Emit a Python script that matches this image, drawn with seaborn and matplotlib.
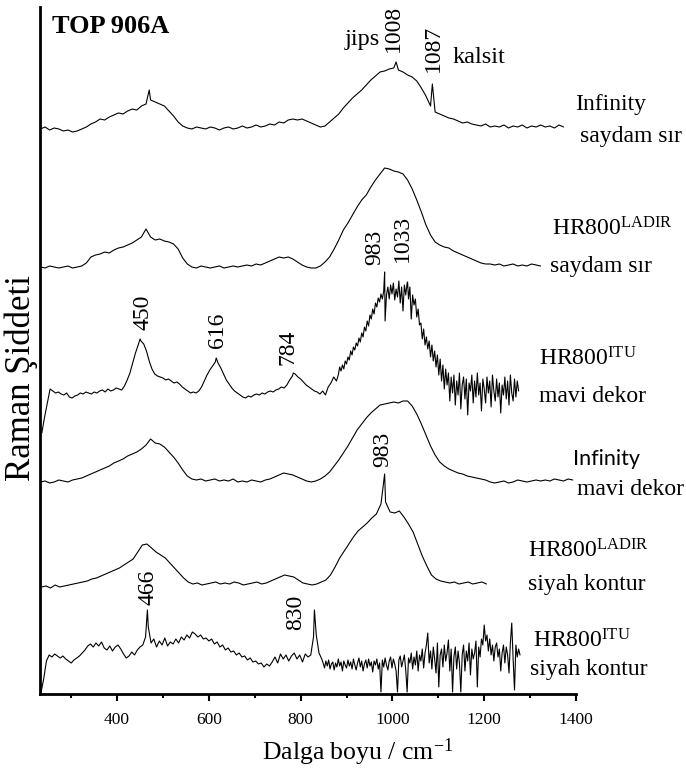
import numpy as np
import pandas as pd
import matplotlib
matplotlib.use("Agg")
import matplotlib.pyplot as plt
from matplotlib.ticker import MultipleLocator
import seaborn as sns

# ---------------------------------------------------------------------------
# Raman spectra of sample TOP 906A.  Each spectrum is stored as one or more
# segments: first wavenumber, sampling step (cm-1) and intensity above the
# spectrum's own baseline (arbitrary units).  Sharp bands are listed
# separately (position in cm-1, height).
# ---------------------------------------------------------------------------
inf_saydam_start, inf_saydam_step = 233, 10
inf_saydam = [
    -1, 1, -2, 0, -1, -3, -2, -4, -3, -1,
    1, 4, 6, 9, 8, 11, 13, 15, 14, 17,
    19, 18, 22, 24, 28, 26, 24, 22, 17, 12,
    6, 2, 0, -1, 1, 0, -1, 1, 0, -2,
    0, 1, -1, 0, 2, 0, 1, 3, 1, 2,
    4, 3, 6, 5, 8, 9, 8, 9, 7, 5,
    3, 1, 2, 6, 10, 14, 20, 25, 30, 34,
    38, 43, 48, 52, 56, 57, 59, 60, 58, 56,
    53, 51, 47, 40, 32, 22, 16, 14, 12, 10,
    9, 7, 5, 6, 4, 3, 2, 4, 1, 2,
    1, 3, 0, 2, 1, 3, 0, 2, 1, 3,
    1, 2, 0, 3, 1,
]
inf_saydam_bands = [470, 1008, 1087]
inf_saydam_band_heights = [38, 66, 44]
inf_saydam_labelled = [1008, 1087]

ladir_saydam_start, ladir_saydam_step = 233, 10
ladir_saydam = [
    0, -1, 1, 0, -1, 0, 1, -1, 0, 1,
    4, 10, 12, 13, 15, 14, 17, 19, 20, 22,
    24, 27, 30, 38, 30, 27, 28, 26, 25, 23,
    18, 9, 3, 0, -1, 1, 0, -1, 0, 1,
    -1, 0, 1, 0, 1, 2, 1, 3, 2, 4,
    6, 8, 10, 9, 10, 8, 5, 2, 0, -1,
    -1, 1, 5, 10, 18, 27, 37, 44, 52, 60,
    67, 72, 80, 87, 93, 99, 98, 96, 95, 93,
    87, 78, 67, 55, 42, 32, 25, 22, 20, 19,
    16, 14, 12, 10, 8, 6, 4, 3, 3, 2,
    3, 1, 2, 3, 1, 2, 1, 3, 2, 1,
]
ladir_saydam_bands = []
ladir_saydam_band_heights = []
ladir_saydam_labelled = []

# HR800 (ITU), blue decoration: coarse low-wavenumber part + dense noisy part
itu_mavi_low_start, itu_mavi_low_step = 236, 6
itu_mavi_low = [
    -38, -22, -8, 6, 4, 2, 3, 1, 0, 2,
    -2, -3, -1, 0, 2, 1, 3, 2, 1, 3,
    2, 4, 5, 3, 6, 4, 5, 7, 6, 5,
    9, 15, 22, 32, 42, 50, 54, 51, 44, 34,
    26, 21, 19, 18, 17, 15, 16, 14, 12, 13,
    11, 8, 6, 4, 2, 3, 2, 4, 8, 14,
    20, 25, 29, 33, 32, 27, 21, 15, 11, 7,
    4, 2, 0, -2, -3, -1, -2, 0, 1, 0,
    2, 1, 3, 4, 3, 5, 6, 8, 7, 10,
    15, 19, 21, 18, 16, 13, 10, 8, 6, 4,
    3, 1, 4, 0, 8, 12, 18, 14,
]
itu_mavi_high_start, itu_mavi_high_step = 882, 3
itu_mavi_high = [
    20, 28, 24, 30, 26, 34, 31, 38, 35, 44,
    40, 48, 45, 52, 49, 57, 53, 62, 58, 68,
    64, 74, 69, 80, 76, 86, 81, 92, 88, 97,
    93, 101, 96, 104, 74, 100, 108, 96, 110, 101,
    112, 95, 106, 98, 114, 92, 108, 84, 110, 100,
    112, 96, 108, 76, 100, 90, 96, 78, 86, 70,
    72, 56, 66, 50, 58, 46, 54, 38, 50, 34,
    44, 28, 40, 20, 36, 14, 30, 6, 26, 10,
    22, -6, 18, 2, 20, -10, 14, 0, 22, -14,
    10, 18, -4, 16, -20, 12, 4, 20, -8, 14,
    -2, 22, 0, 12, -16, 16, 6, -8, 18, 2,
    14, -12, 20, 4, -6, 16, -2, 12, -18, 10,
    0, 18, -4, 14, -10, 20, 2, -6, 16, -2,
    14, 4,
]
itu_mavi_bands = [450, 616, 784, 983, 1033]
itu_mavi_band_heights = [56, 37, 22, 123, 113]
itu_mavi_labelled = [450, 616, 784, 983, 1033]

inf_mavi_start, inf_mavi_step = 233, 10
inf_mavi = [
    0, 1, -1, 0, 2, 1, 0, 2, 3, 4,
    6, 8, 10, 12, 14, 16, 19, 21, 23, 26,
    28, 30, 33, 37, 43, 39, 38, 35, 30, 25,
    19, 12, 6, 3, 2, 3, 1, 2, 3, 1,
    2, 1, 3, 0, 1, 0, 2, 1, 0, 2,
    3, 5, 7, 9, 8, 7, 5, 3, 1, 0,
    1, 3, 6, 10, 16, 22, 29, 36, 44, 52,
    58, 64, 69, 73, 77, 78, 79, 80, 79, 81,
    81, 76, 68, 58, 47, 36, 27, 20, 16, 13,
    11, 9, 8, 6, 5, 4, 3, 2, 0, -1,
    0, 1, -1, 0, 2, 1, 0, 1, 2, 1,
    2, 1, 3, 2, 1, 3, 2,
]
inf_mavi_bands = []
inf_mavi_band_heights = []
inf_mavi_labelled = []

ladir_siyah_start, ladir_siyah_step = 235, 10
ladir_siyah = [
    -3, -2, -4, -1, -3, -2, -1, 0, 1, 2,
    3, 5, 6, 8, 10, 12, 14, 16, 19, 22,
    25, 32, 39, 40, 36, 32, 29, 26, 21, 16,
    11, 6, 2, 0, 1, -1, 0, 1, 2, 0,
    1, 0, 2, 1, -1, 0, 1, 2, 0, 1,
    3, 5, 7, 9, 8, 7, 4, 1, 0, -1,
    0, 2, 4, 9, 17, 26, 33, 40, 47, 53,
    57, 61, 66, 70, 80, 82, 72, 71, 73, 67,
    60, 52, 40, 28, 18, 9, 5, 3, 2, 1,
    2, 0, 1, 2, 0, 1, 2, 0,
]
ladir_siyah_bands = [983]
ladir_siyah_band_heights = [110]
ladir_siyah_labelled = [983]

# HR800 (ITU), black contour: coarse part + dense noisy part
itu_siyah_low_start, itu_siyah_low_step = 234, 6
itu_siyah_low = [
    -28, -14, 4, 10, 8, 11, 9, 7, 9, 6,
    4, 2, 5, 7, 9, 12, 15, 19, 21, 18,
    22, 19, 23, 17, 15, 19, 14, 18, 20, 16,
    11, 7, 9, 13, 10, 15, 18, 20, 28, 38,
    22, 26, 18, 24, 20, 27, 19, 23, 21, 26,
    22, 28, 25, 30, 27, 33, 31, 28, 30, 26,
    27, 24, 26, 21, 23, 18, 20, 15, 17, 13,
    14, 10, 12, 8, 9, 5, 7, 3, 4, 1,
    2, -2, 1, -1, 3, 8, 2, 11, 6, 10,
    4, 9, 12, 6, 10, 3, 11, 8, 10, 28,
    30, 12, 6,
]
itu_siyah_high_start, itu_siyah_high_step = 849, 3
itu_siyah_high = [
    2, -3, 4, -1, 5, -4, 1, 3, -5, 2,
    -2, 6, -1, 3, -6, 4, 0, -3, 5, -1,
    3, -4, 6, 0, -5, 2, 7, -2, 4, -6,
    1, 5, -3, 6, -1, 3, -7, 4, 0, 6,
    -4, 2, -27, 5, -2, 7, 0, -5, 4, 8,
    -3, 6, 1, -6, -27, 5, 9, -2, 4, 10,
    -5, -27, 7, 2, 12, -4, 8, 0, 14, -6,
    10, 4, 16, -3, 12, 20, 32, 2, 14, -4,
    18, 6, -8, 22, -22, 10, 16, -2, 20, 4,
    12, 25, -6, 16, -27, 8, 18, -4, 14, 2,
    -27, 10, 20, -6, 14, 4, 22, -10, 16, 6,
    12, 24, -22, 18, 8, 26, 20, 40, 24, 30,
    14, 26, 10, 20, 4, 18, 22, 8, 16, -6,
    12, 20, 2, 18, 10, -8, 22, 42, 6, -25,
    20, 8, 16, 10,
]
itu_siyah_bands = [466, 830]
itu_siyah_band_heights = [55, 55]
itu_siyah_labelled = [466, 830]

instruments = ["Infinity", r"HR800$^{\mathrm{LADIR}}$", r"HR800$^{\mathrm{ITU}}$",
               "Infinity", r"HR800$^{\mathrm{LADIR}}$", r"HR800$^{\mathrm{ITU}}$"]
samples = ["saydam sır", "saydam sır", "mavi dekor",
           "mavi dekor", "siyah kontur", "siyah kontur"]

x_ticks = [400, 600, 800, 1000, 1200, 1400]

# ---------------------------------------------------------------------------
# Layout: vertical stacking offsets and text placement
# ---------------------------------------------------------------------------
offsets = [566, 427, 299, 212, 110, 29]
instr_pos = [(1398, 584), (1348, 459), (1320, 329), (1394, 229), (1296, 137), (1307, 47)]
sample_pos = [(1409, 552), (1344, 422), (1320, 292), (1403, 199), (1296, 104), (1300, 19)]
instr_family = ["Liberation Serif", "Liberation Serif", "Liberation Serif",
                "Lato", "Liberation Serif", "Liberation Serif"]
instr_size = [17, 17, 17, 15.5, 17, 17]
# per labelled band: (horizontal shift of the number, bottom of the number)
band_label_layout = {
    (0, 1008): (-6, 642), (0, 1087): (2, 622),
    (2, 450): (7, 364), (2, 616): (2, 346), (2, 784): (-11, 329),
    (2, 983): (-21, 429), (2, 1033): (-12, 432),
    (4, 983): (-5, 227),
    (5, 466): (2, 89), (5, 830): (-40, 64),
}

spectra = [
    ([(inf_saydam_start, inf_saydam_step, inf_saydam)],
     inf_saydam_bands, inf_saydam_band_heights, inf_saydam_labelled),
    ([(ladir_saydam_start, ladir_saydam_step, ladir_saydam)],
     ladir_saydam_bands, ladir_saydam_band_heights, ladir_saydam_labelled),
    ([(itu_mavi_low_start, itu_mavi_low_step, itu_mavi_low),
      (itu_mavi_high_start, itu_mavi_high_step, itu_mavi_high)],
     itu_mavi_bands, itu_mavi_band_heights, itu_mavi_labelled),
    ([(inf_mavi_start, inf_mavi_step, inf_mavi)],
     inf_mavi_bands, inf_mavi_band_heights, inf_mavi_labelled),
    ([(ladir_siyah_start, ladir_siyah_step, ladir_siyah)],
     ladir_siyah_bands, ladir_siyah_band_heights, ladir_siyah_labelled),
    ([(itu_siyah_low_start, itu_siyah_low_step, itu_siyah_low),
      (itu_siyah_high_start, itu_siyah_high_step, itu_siyah_high)],
     itu_siyah_bands, itu_siyah_band_heights, itu_siyah_labelled),
]


def build_spectrum(segments, bands, band_heights):
    xs = [start + step * np.arange(len(vals)) for start, step, vals in segments]
    ys = [np.asarray(vals, dtype=float) for _, _, vals in segments]
    x = np.concatenate(xs + [np.asarray(bands, dtype=float)])
    y = np.concatenate(ys + [np.asarray(band_heights, dtype=float)])
    order = np.argsort(x, kind="stable")
    return x[order], y[order]


sns.set_theme(style="white")
plt.rcParams["font.family"] = ["Liberation Serif", "DejaVu Serif"]
plt.rcParams["mathtext.fontset"] = "custom"
plt.rcParams["mathtext.rm"] = "Liberation Serif"
plt.rcParams["mathtext.it"] = "Liberation Serif:italic"

W, H = 686, 769
fig = plt.figure(figsize=(W / 100, H / 100), dpi=100)
fig.patch.set_facecolor("white")
ax = fig.add_axes([40 / W, 75 / H, (576 - 40) / W, (762 - 75) / H])
ax.set_facecolor("white")

for k, (segments, bands, bh, labelled) in enumerate(spectra):
    x, h = build_spectrum(segments, bands, bh)
    df = pd.DataFrame({"wavenumber": x, "intensity": h + offsets[k]})
    sns.lineplot(data=df, x="wavenumber", y="intensity", ax=ax, color="black",
                 linewidth=0.8, estimator=None, sort=False, legend=False)
    for b in labelled:
        dx, ybot = band_label_layout[(k, b)]
        ax.text(b + dx, ybot, str(b), rotation=90, ha="center", va="bottom",
                fontsize=17, color="black")
    ix, iy = instr_pos[k]
    ax.text(ix, iy, instruments[k], ha="left", va="baseline",
            fontsize=instr_size[k], family=instr_family[k], color="black",
            clip_on=False)
    sx, sy = sample_pos[k]
    ax.text(sx, sy, samples[k], ha="left", va="baseline", fontsize=17,
            color="black", clip_on=False)

ax.text(897, 649, "jips", ha="left", va="baseline", fontsize=17.5, color="black")
ax.text(1132, 631, "kalsit", ha="left", va="baseline", fontsize=17.5, color="black")
ax.text(258, 661, "TOP 906A", ha="left", va="baseline", fontsize=19,
        fontweight="bold", color="black")

ax.set_xlim(232, 1400)
ax.set_ylim(0, 687)
ax.set_xticks(x_ticks)
ax.set_xticklabels([str(t) for t in x_ticks])
ax.xaxis.set_minor_locator(MultipleLocator(100))
ax.set_yticks([])
ax.set_xlabel("")
ax.set_ylabel("")

for side in ["top", "right"]:
    ax.spines[side].set_visible(False)
for side in ["left", "bottom"]:
    ax.spines[side].set_visible(True)
    ax.spines[side].set_color("black")
    ax.spines[side].set_linewidth(2.0)

ax.tick_params(axis="x", which="major", direction="out", length=5, width=1.5,
               color="black", labelsize=12.5, labelcolor="black", pad=8,
               bottom=True)
ax.tick_params(axis="x", which="minor", direction="out", length=3, width=1.5,
               color="black", bottom=True)

fig.text(262 / W, 1 - 760 / H, r"Dalga boyu / cm$^{\mathrm{-1}}$", ha="left",
         va="baseline", fontsize=18.5, color="black")
fig.text(21 / W, 1 - 378 / H, "Raman Şiddeti", rotation=90, ha="center",
         va="center", fontsize=25, color="black")

fig.savefig("out.png", dpi=100, facecolor="white")
